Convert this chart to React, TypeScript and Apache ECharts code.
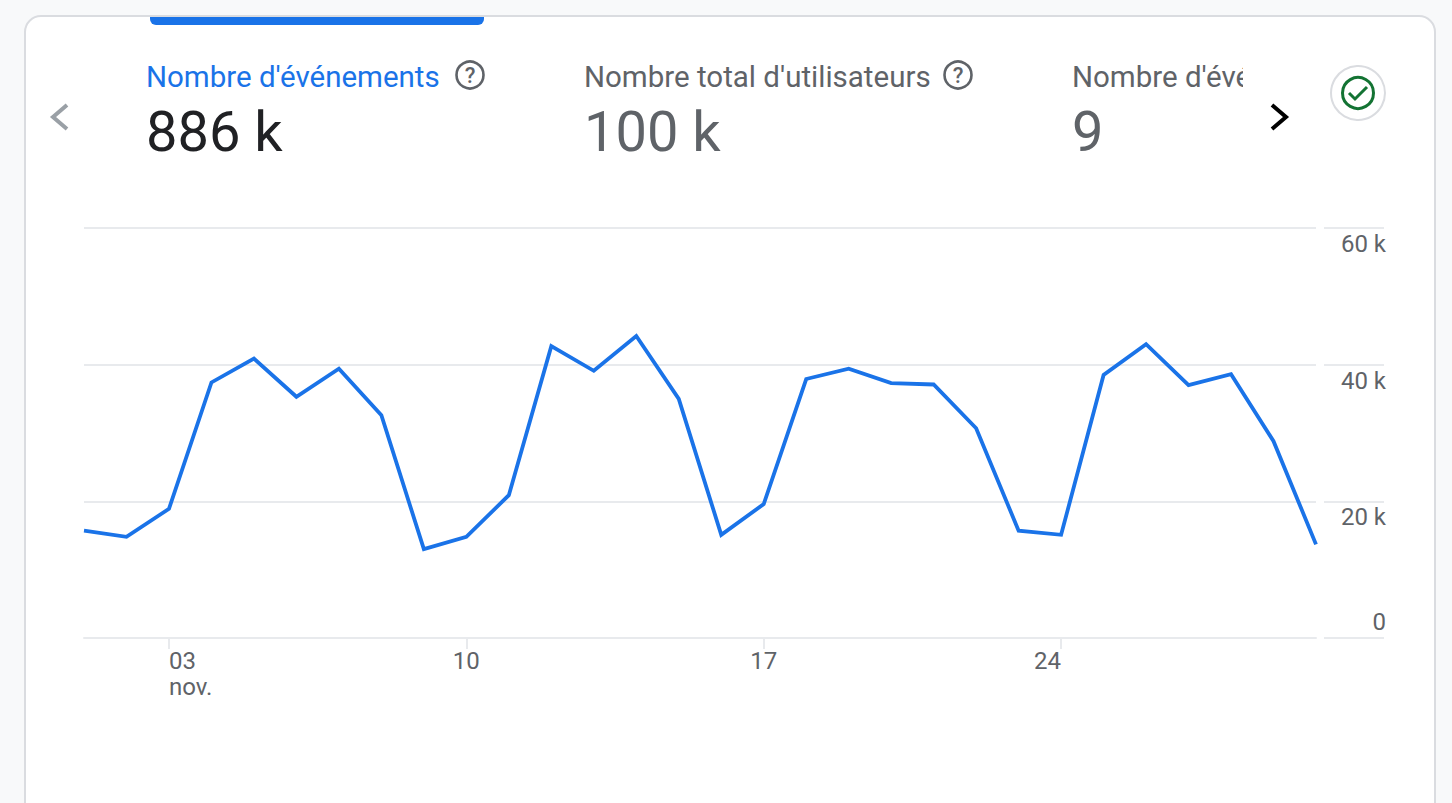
import React, { useEffect, useRef } from "react";
import * as echarts from "echarts";

const days = ["01","02","03","04","05","06","07","08","09","10","11","12","13","14","15","16","17","18","19","20","21","22","23","24","25","26","27","28","29","30"];
const events = [15.7,14.8,18.9,37.4,40.9,35.3,39.4,32.6,13.0,14.8,20.9,42.7,39.1,44.2,35.0,15.1,19.6,37.9,39.4,37.3,37.1,30.7,15.7,15.1,38.5,43.0,37.0,38.6,28.8,13.7];
const tickDays = ["03","10","17","24"];
const yTicks = [0, 20, 40, 60];
const metricTitles = ["Nombre d'événements", "Nombre total d'utilisateurs", "Nombre d'événements"];
const metricValues = ["886 k", "100 k", "9"];

const BLUE = "#1a73e8";
const GREY = "#5f6368";
const LINE = "#e8eaed";
const FONT = "Roboto, sans-serif";

const titleText = (i: number, x: number, fill: string) => ({
  type: "text", x, y: 62, z: 5,
  style: { text: metricTitles[i], fill, font: `400 29.5px ${FONT}` },
});
const valueText = (i: number, x: number, fill: string) => ({
  type: "text", x, y: 104, z: 5,
  style: { text: metricValues[i], fill, font: `400 56px ${FONT}` },
});
const help = (cx: number) => [
  { type: "circle", z: 5, shape: { cx, cy: 75, r: 13.5 }, style: { fill: "none", stroke: GREY, lineWidth: 2.6 } },
  { type: "text", x: cx, y: 75, z: 5, style: { text: "?", fill: GREY, font: `500 22px ${FONT}`, align: "center", verticalAlign: "middle" } },
];

export default function App() {
  const ref = useRef<HTMLDivElement>(null);
  useEffect(() => {
    const chart = echarts.init(ref.current!, null, { renderer: "svg" });
    chart.setOption({
      animation: false,
      backgroundColor: "#f8f9fa",
      textStyle: { fontFamily: FONT },
      grid: [
        { left: 84, top: 228, width: 1232, height: 410 },
        { left: 1324, top: 228, width: 60, height: 410 },
      ],
      xAxis: [
        {
          type: "category", gridIndex: 0, boundaryGap: false,
          data: days.map((d) => {
            if (!tickDays.includes(d)) return d;
            const align = d === "03" ? "left" : d === "24" ? "right" : "center";
            return { value: d === "03" ? "03\nnov." : d, textStyle: { align } };
          }),
          axisLine: { lineStyle: { color: LINE, width: 2 } },
          axisTick: { alignWithLabel: true, length: 11, interval: (_: number, v: string) => tickDays.includes(v.slice(0, 2)), lineStyle: { color: LINE, width: 2 } },
          axisLabel: {
            interval: (_: number, v: string) => tickDays.includes(v.slice(0, 2)),
            color: GREY, fontSize: 24, lineHeight: 26, margin: 10, fontFamily: FONT, verticalAlign: "top",
          },
          splitLine: { show: false },
        },
        { type: "value", gridIndex: 1, min: 0, max: 1, show: true, axisLabel: { show: false }, axisTick: { show: false }, splitLine: { show: false }, axisLine: { show: false } },
      ],
      yAxis: [
        {
          type: "value", gridIndex: 0, min: 0, max: 60, interval: 20, position: "right",
          axisLabel: { show: false }, axisLine: { show: false }, axisTick: { show: false },
          splitLine: { lineStyle: { color: LINE, width: 2 } },
        },
        {
          type: "value", gridIndex: 1, min: 0, max: 60, interval: 20, position: "right",
          axisLine: { show: false }, axisTick: { show: false },
          splitLine: { lineStyle: { color: LINE, width: 2 } },
          axisLabel: {
            inside: false, margin: 2, align: "right", verticalAlign: "top", color: GREY, fontSize: 24, fontFamily: FONT, padding: [4, 0, 0, 0],
            formatter: (v: number) => (v === 0 ? "" : `${v} k`),
          },
        },
        {
          type: "value", gridIndex: 1, min: 0, max: 60, interval: 20, position: "right",
          axisLine: { show: false }, axisTick: { show: false }, splitLine: { show: false },
          axisLabel: {
            margin: 2, align: "right", verticalAlign: "bottom", color: GREY, fontSize: 24, fontFamily: FONT, padding: [0, 0, 4, 0],
            formatter: (v: number) => (yTicks[0] === v ? "0" : ""),
          },
        },
      ],
      series: [
        {
          type: "line", xAxisIndex: 0, yAxisIndex: 0, data: events, showSymbol: false, symbol: "none", smooth: false,
          lineStyle: { color: BLUE, width: 3.8, join: "miter", cap: "butt" }, z: 3,
        },
      ],
      graphic: [
        { type: "rect", z: -10, shape: { x: 25, y: 16, width: 1410, height: 830, r: 16 }, style: { fill: "#ffffff", stroke: "#dadce0", lineWidth: 2 } },
        { type: "rect", z: 4, shape: { x: 150, y: 17, width: 334, height: 8, r: [0, 0, 6, 6] }, style: { fill: BLUE } },
        titleText(0, 146, BLUE),
        valueText(0, 146, "#202124"),
        ...help(470),
        titleText(1, 584, GREY),
        valueText(1, 584, GREY),
        ...help(958),
        titleText(2, 1072, GREY),
        valueText(2, 1072, GREY),
        { type: "rect", z: 6, shape: { x: 1243, y: 55, width: 125, height: 40 }, style: { fill: "#ffffff" } },
        { type: "rect", z: 6, shape: { x: 165, y: 695, width: 55, height: 8 }, style: { fill: "#ffffff" } },
        { type: "polyline", z: 7, shape: { points: [[67, 105], [53, 117], [67, 129]] }, style: { fill: "none", stroke: "#9aa0a6", lineWidth: 4 } },
        { type: "polyline", z: 7, shape: { points: [[1272, 105], [1286, 117], [1272, 129]] }, style: { fill: "none", stroke: "#000000", lineWidth: 4 } },
        { type: "circle", z: 7, shape: { cx: 1358, cy: 93, r: 27 }, style: { fill: "#ffffff", stroke: "#dadce0", lineWidth: 2 } },
        { type: "circle", z: 8, shape: { cx: 1358, cy: 93, r: 15.5 }, style: { fill: "none", stroke: "#137333", lineWidth: 3 } },
        { type: "polyline", z: 8, shape: { points: [[1349, 93], [1355, 99], [1367, 87]] }, style: { fill: "none", stroke: "#137333", lineWidth: 3 } },
      ],
    });
    return () => chart.dispose();
  }, []);
  return <div ref={ref} style={{ position: "fixed", left: 0, top: 0, width: 1452, height: 803 }} />;
}
